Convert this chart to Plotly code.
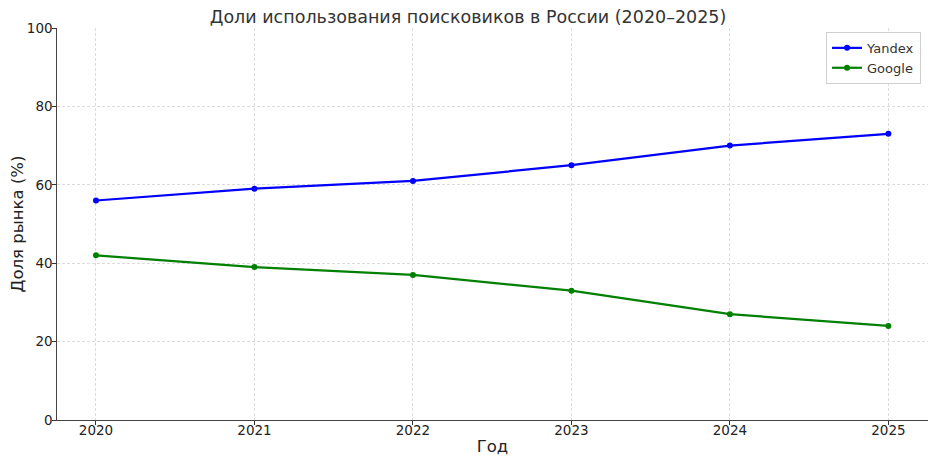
import plotly.graph_objects as go

years = [2020, 2021, 2022, 2023, 2024, 2025]
yandex = [56, 59, 61, 65, 70, 73]
google = [42, 39, 37, 33, 27, 24]

fig = go.Figure()
fig.add_trace(go.Scatter(x=years, y=yandex, name='Yandex', mode='lines+markers',
                         line=dict(color='blue', width=2.2), marker=dict(size=6, color='blue')))
fig.add_trace(go.Scatter(x=years, y=google, name='Google', mode='lines+markers',
                         line=dict(color='green', width=2.2), marker=dict(size=6, color='green')))

# page body has an 8px margin, so the figure is a bit smaller than the window
fig.update_layout(
    width=920, height=448,
    paper_bgcolor='white', plot_bgcolor='white',
    font=dict(family='DejaVu Sans', color='#222222', size=13.5),
    title=dict(text='Доли использования поисковиков в России (2020–2025)',
               x=0.5, xanchor='center', y=0.981, yanchor='middle', font=dict(size=17.5, color='#333333')),
    margin=dict(l=49, r=0, t=20, b=36),
    showlegend=True,
    legend=dict(x=0.992, y=0.99, xanchor='right', yanchor='top',
                bgcolor='white', bordercolor='#d0d0d0', borderwidth=1,
                font=dict(size=13, color='#333333'), tracegroupgap=0),
    xaxis=dict(
        title=dict(text='Год', font=dict(size=16.5), standoff=7),
        range=[2019.754, 2025.25], tickvals=years, ticks='outside', ticklen=3.5,
        ticklabelstandoff=-6,
        tickcolor='#333333', showline=True, linecolor='#444444', linewidth=1.3,
        showgrid=True, gridcolor='#dcdcdc', griddash='3px,2px', gridwidth=0.8,
        zeroline=False, tickfont=dict(size=13.5), automargin=False,
    ),
    yaxis=dict(
        title=dict(text='Доля рынка (%)', font=dict(size=16.5), standoff=8),
        range=[0, 100], tickvals=[0, 20, 40, 60, 80, 100], ticks='outside', ticklen=3.5,
        ticklabelstandoff=-3,
        tickcolor='#333333', showline=True, linecolor='#444444', linewidth=1.3,
        showgrid=True, gridcolor='#dcdcdc', griddash='3px,2px', gridwidth=0.8,
        zeroline=False, tickfont=dict(size=13.5), automargin=False,
    ),
)

fig.write_html("out.html")
